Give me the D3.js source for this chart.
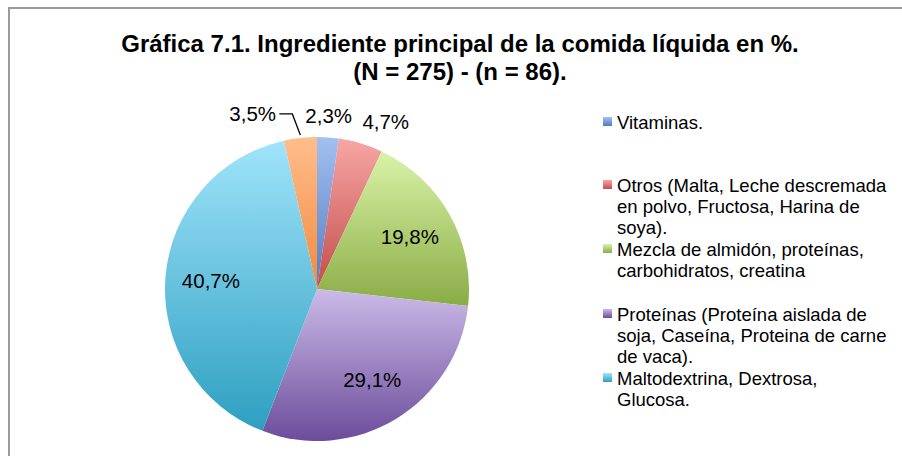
<!DOCTYPE html>
<html>
<head>
<meta charset="utf-8">
<script src="https://cdn.jsdelivr.net/npm/d3@7/dist/d3.min.js"></script>
<style>
  body { margin: 0; background: #fff; }
  svg { display: block; font-family: "Liberation Sans", Arial, sans-serif; }
</style>
</head>
<body>
<svg id="chart" width="902" height="456"></svg>
<script>
var categories = [
  'Vitaminas.',
  'Otros (Malta, Leche descremada en polvo, Fructosa, Harina de soya).',
  'Mezcla de almidón, proteínas, carbohidratos, creatina',
  'Proteínas (Proteína aislada de soja, Caseína, Proteina de carne de vaca).',
  'Maltodextrina, Dextrosa, Glucosa.',
  'Otros ingredientes'
];
var values = [2.3, 4.7, 19.8, 29.1, 40.7, 3.5];
var valueLabels = ['2,3%', '4,7%', '19,8%', '29,1%', '40,7%', '3,5%'];
// legend shows only the first five entries, already wrapped
var legendLines = [
  ['Vitaminas.'],
  ['Otros (Malta, Leche descremada', 'en polvo, Fructosa, Harina de', 'soya).'],
  ['Mezcla de almidón, proteínas,', 'carbohidratos, creatina'],
  ['Proteínas (Proteína aislada de', 'soja, Caseína, Proteina de carne', 'de vaca).'],
  ['Maltodextrina, Dextrosa,', 'Glucosa.']
];
var titleLines = ['Gráfica 7.1. Ingrediente principal de la comida líquida en %.', '(N = 275) - (n = 86).'];

// light (top) / dark (bottom) gradient stops, Excel 2007 style
var lightCols = ['#a3c0f2', '#f7a6a4', '#d8f3a8', '#cbbbe7', '#a0e4fb', '#ffbd8c'];
var darkCols  = ['#5479bd', '#c24d4b', '#8aac44', '#6c4c9c', '#2e9fc0', '#f08a3e'];

var svg = d3.select('#chart');
var cx = 317, cy = 289, R = 152;

var defs = svg.append('defs');
lightCols.forEach(function(c, i) {
  var g = defs.append('linearGradient')
    .attr('id', 'grad' + i)
    .attr('x1', 0).attr('y1', 0).attr('x2', 0).attr('y2', 1);
  g.append('stop').attr('offset', '0%').attr('stop-color', c);
  g.append('stop').attr('offset', '100%').attr('stop-color', darkCols[i]);
});

// chart frame (right and bottom edges fall outside the picture)
svg.append('rect')
  .attr('x', 9).attr('y', 8)
  .attr('width', 940).attr('height', 500)
  .attr('fill', 'none')
  .attr('stroke', '#9b9b9b')
  .attr('stroke-width', 2);

svg.append('g').selectAll('text')
  .data(titleLines)
  .enter()
  .append('text')
    .attr('x', 460)
    .attr('y', (d, i) => 52 + i * 28)
    .attr('text-anchor', 'middle')
    .attr('font-size', 24)
    .attr('font-weight', 'bold')
    .attr('fill', '#000')
    .text(d => d);

var pie = d3.pie().sort(null).value(d => d);
var arcs = pie(values);
var arc = d3.arc().innerRadius(0).outerRadius(R);

var pieG = svg.append('g').attr('transform', `translate(${cx},${cy})`);
pieG.selectAll('path')
  .data(arcs)
  .enter()
  .append('path')
    .attr('d', arc)
    .attr('fill', (d, i) => `url(#grad${i})`);

// labels: big slices inside, small ones outside
var inArc = d3.arc().innerRadius(R * 0.7).outerRadius(R * 0.7);
var outArc = d3.arc().innerRadius(R * 1.16).outerRadius(R * 1.16);
var labelNudge = [[-1, 3], [18, 2], [0, 0], [0, 0], [0, 0], [-45, 0]];

pieG.selectAll('text.lbl')
  .data(arcs)
  .enter()
  .append('text')
    .attr('class', 'lbl')
    .attr('transform', function(d, i) {
      var p = (values[i] < 10 ? outArc : inArc).centroid(d);
      return `translate(${p[0] + labelNudge[i][0]},${p[1] + labelNudge[i][1]})`;
    })
    .attr('text-anchor', 'middle')
    .attr('dy', '0.35em')
    .attr('font-size', 20.5)
    .attr('fill', '#000')
    .text((d, i) => valueLabels[i]);

// leader line for the 3,5% label
var a5 = (arcs[5].startAngle + arcs[5].endAngle) / 2;
var edge = [Math.sin(a5) * R, -Math.cos(a5) * R];
pieG.append('path')
  .attr('d', d3.line()([
    [edge[0] - 21, edge[1] - 24],
    [edge[0] - 8, edge[1] - 24],
    [edge[0], edge[1] - 3]
  ]))
  .attr('fill', 'none')
  .attr('stroke', '#000')
  .attr('stroke-width', 1.3);

// legend
var legendTop = [129, 192, 256, 321, 385];
var leg = svg.append('g');
legendLines.forEach(function(lines, i) {
  leg.append('rect')
    .attr('x', 603).attr('y', legendTop[i] - 12)
    .attr('width', 9).attr('height', 9)
    .attr('fill', `url(#grad${i})`);
  leg.append('g').selectAll('text')
    .data(lines)
    .enter()
    .append('text')
      .attr('x', 617)
      .attr('y', (d, j) => legendTop[i] + j * 21)
      .attr('font-size', 18.5)
      .attr('fill', '#000')
      .text(d => d);
});
</script>
</body>
</html>
